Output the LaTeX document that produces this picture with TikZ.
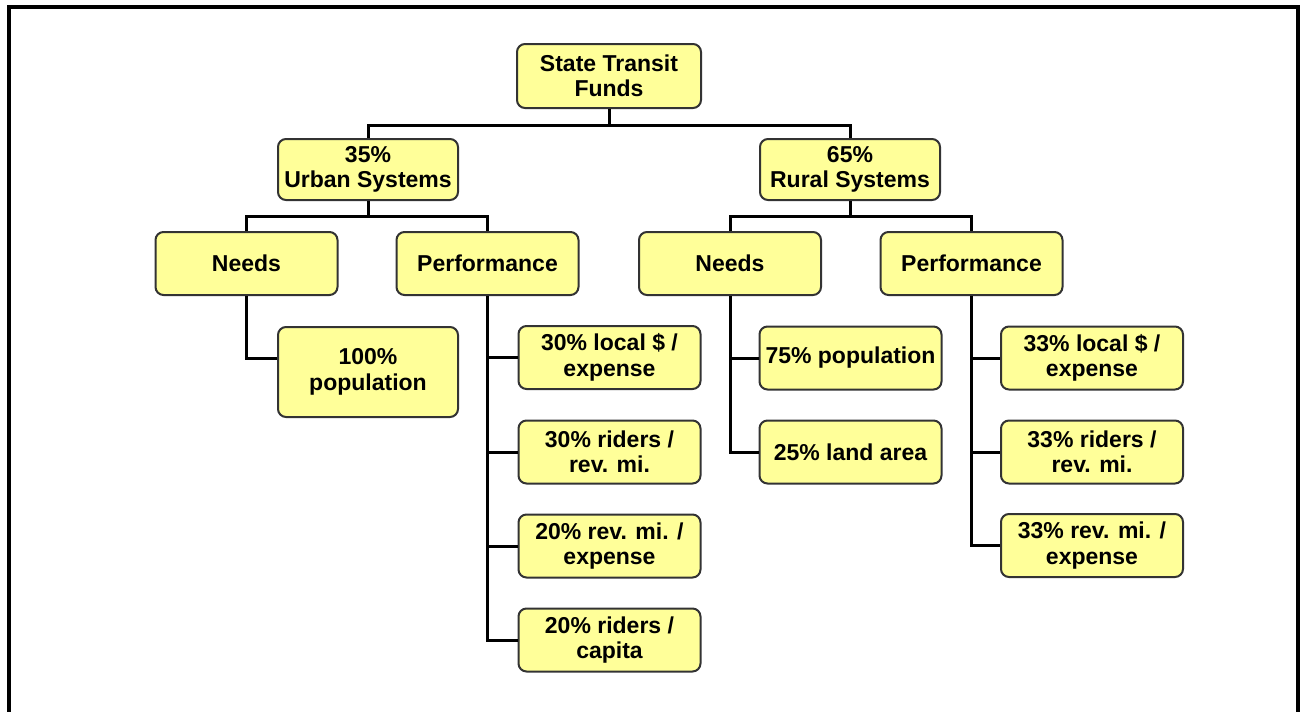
\documentclass[tikz,border=0pt]{standalone}
\usepackage{fontspec}
\setmainfont{Liberation Sans}
\definecolor{boxfill}{HTML}{FFFF99}
\definecolor{boxline}{HTML}{333333}
\begin{document}
\begin{tikzpicture}[x=1pt,y=-1pt,
  box/.style={draw=boxline, line width=2pt, fill=boxfill, rounded corners=8pt,
    inner sep=0pt, align=center, font=\fontsize{23}{25.5}\selectfont\bfseries,
    minimum width=182pt, minimum height=63pt},
  tallbox/.style={box, minimum height=90pt},
  link/.style={draw=black, line width=3pt}]
\useasboundingbox (0,0) rectangle (1302,712);
\fill[white] (0,0) rectangle (1302,712);
\draw[line width=4pt] (9,714) -- (9,7) -- (1298,7) -- (1298,714);

\node[box, minimum width=184pt, minimum height=64pt] (root) at (609,76) {State Transit\\Funds};
\node[box, minimum width=180pt, minimum height=61pt] (urban) at (368,169.5) {35\%\\Urban Systems};
\node[box, minimum width=180pt, minimum height=61pt] (rural) at (850,169.5) {65\%\\Rural Systems};

\node[box] (uneeds) at (246.5,263.5) {Needs};
\node[box] (uperf) at (487.5,263.5) {Performance};
\node[box] (rneeds) at (730,263.5) {Needs};
\node[box] (rperf) at (971.5,263.5) {Performance};

\node[tallbox, minimum width=180pt] (upop) at (368,372) {100\%\\population};

\node[box] (u1) at (609.5,357.5) {30\% local \$ /\\expense};
\node[box] (u2) at (609.5,452) {30\% riders /\\rev. mi.};
\node[box] (u3) at (609.5,546) {20\% rev. mi. /\\expense};
\node[box] (u4) at (609.5,640) {20\% riders /\\capita};

\node[box] (rpop) at (850.5,358) {75\% population};
\node[box] (rland) at (850.5,452) {25\% land area};

\node[box] (r1) at (1092,358) {33\% local \$ /\\expense};
\node[box] (r2) at (1092,452) {33\% riders /\\rev. mi.};
\node[box] (r3) at (1092,545.5) {33\% rev. mi. /\\expense};

\coordinate (b1) at (609,125);
\coordinate (b2) at (368,216);
\coordinate (b3) at (850,216);

\path[link] (root.south) -- (b1);
\path[link] (urban.north) -- (urban.north |- b1) -- (rural.north |- b1) -- (rural.north);
\path[link] (urban.south) -- (b2);
\path[link] (uneeds.north) -- (uneeds.north |- b2) -- (uperf.north |- b2) -- (uperf.north);
\path[link] (rural.south) -- (b3);
\path[link] (rneeds.north) -- (rneeds.north |- b3) -- (rperf.north |- b3) -- (rperf.north);

\path[link] (uneeds.south) |- ([yshift=14pt]upop.west);
\path[link] (uperf.south) |- (u1.west);
\path[link] (uperf.south) |- (u2.west);
\path[link] (uperf.south) |- (u3.west);
\path[link] (uperf.south) |- (u4.west);

\path[link] (rneeds.south) |- (rpop.west);
\path[link] (rneeds.south) |- (rland.west);

\path[link] (rperf.south) |- (r1.west);
\path[link] (rperf.south) |- (r2.west);
\path[link] (rperf.south) |- (r3.west);
\end{tikzpicture}
\end{document}
